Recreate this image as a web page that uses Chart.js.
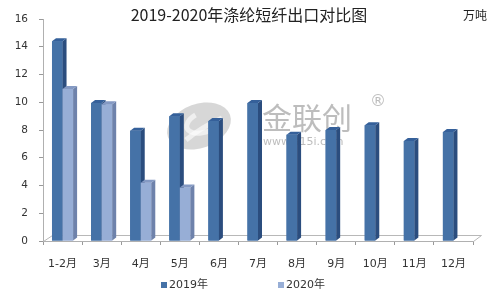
<!DOCTYPE html>
<html><head><meta charset="utf-8">
<script src="https://cdn.jsdelivr.net/npm/chart.js@4/dist/chart.umd.min.js"></script>
<style>html,body{margin:0;padding:0;background:#fff}#wrap{width:500px;height:296px;position:relative}</style>
</head><body><div id="wrap"><canvas id="c" width="500" height="296"></canvas></div>
<script>
const categories = ['1-2月','3月','4月','5月','6月','7月','8月','9月','10月','11月','12月'];
const series2019 = [14.4, 9.95, 7.95, 9.0, 8.65, 9.95, 7.65, 8.0, 8.35, 7.2, 7.85];
const series2020 = [10.95, 9.85, 4.2, 3.85, null, null, null, null, null, null, null];
const seriesNames = ['2019年', '2020年'];
const yTickMin = 0, yTickMax = 16, yTickStep = 2;
const titleText = '2019-2020年涤纶短纤出口对比图';
const unitText = '万吨';
const watermarkText = '金联创';
const watermarkUrl = 'www.315i.com';

const FRONT = ['#4572A7', '#97AED6'];
const SIDE = ['#2B4D7E', '#6E82AB'];
const TOP = ['#35609A', '#8499C3'];
const DX = 4, DY = 3;
const FONT = "'DejaVu Sans', 'Noto Sans CJK SC', sans-serif";

const decorPlugin = {
  id: 'decor',
  beforeDatasetsDraw(chart) {
    const ctx = chart.ctx, a = chart.chartArea;
    ctx.save();
    // watermark logo
    ctx.globalAlpha = 0.6;
    ctx.fillStyle = '#bdbdbd';
    ctx.beginPath();
    ctx.ellipse(199, 126, 33, 22, -0.35, 0, Math.PI * 2);
    ctx.fill();
    ctx.strokeStyle = '#ffffff';
    ctx.lineWidth = 5;
    ctx.beginPath();
    ctx.ellipse(204, 122, 18, 10, -0.35, 0.3, Math.PI * 1.4);
    ctx.stroke();
    ctx.beginPath();
    ctx.moveTo(186, 140); ctx.quadraticCurveTo(200, 128, 222, 118);
    ctx.stroke();
    ctx.globalAlpha = 0.8;
    ctx.fillStyle = '#acacac';
    ctx.font = "30px 'Noto Sans CJK SC'";
    ctx.textBaseline = 'middle';
    ctx.textAlign = 'left';
    ctx.fillText(watermarkText, 262, 118);
    ctx.font = "16px 'DejaVu Sans'";
    ctx.fillText('®', 370, 102);
    ctx.font = "11px 'DejaVu Sans'";
    ctx.fillText(watermarkUrl, 263, 142);
    ctx.globalAlpha = 1;
    // floor
    ctx.strokeStyle = '#b8b8b8';
    ctx.lineWidth = 1;
    ctx.beginPath();
    ctx.moveTo(a.left + 0.5, a.bottom + 0.5);
    ctx.lineTo(a.left + 9.5, a.bottom - 5.5);
    ctx.lineTo(a.right + 8.5, a.bottom - 5.5);
    ctx.lineTo(a.right + 0.5, a.bottom + 0.5);
    ctx.stroke();
    ctx.restore();
  },
  afterDatasetsDraw(chart) {
    const ctx = chart.ctx;
    const metas = [chart.getDatasetMeta(0), chart.getDatasetMeta(1)];
    ctx.save();
    for (let i = 0; i < categories.length; i++) {
      for (let d = 0; d < 2; d++) {
        const v = chart.data.datasets[d].data[i];
        if (v === null || v === undefined) continue;
        const el = metas[d].data[i];
        el.draw(ctx);
        const l = el.x - el.width / 2, r = el.x + el.width / 2, t = el.y, b = el.base;
        ctx.fillStyle = SIDE[d];
        ctx.beginPath();
        ctx.moveTo(r, t); ctx.lineTo(r + DX, t - DY); ctx.lineTo(r + DX, b - DY); ctx.lineTo(r, b);
        ctx.closePath(); ctx.fill();
        ctx.fillStyle = TOP[d];
        ctx.beginPath();
        ctx.moveTo(l, t); ctx.lineTo(l + DX, t - DY); ctx.lineTo(r + DX, t - DY); ctx.lineTo(r, t);
        ctx.closePath(); ctx.fill();
      }
    }
    ctx.restore();
  },
  afterDraw(chart) {
    const ctx = chart.ctx;
    ctx.save();
    ctx.fillStyle = '#222';
    ctx.textBaseline = 'middle';
    ctx.textAlign = 'center';
    ctx.font = "16px 'Noto Sans CJK SC'";
    ctx.fillText(titleText, 249, 15);
    ctx.textAlign = 'left';
    ctx.font = "12px 'Noto Sans CJK SC'";
    ctx.fillText(unitText, 463, 15);
    const lx = [161, 278];
    ctx.font = "11px " + FONT;
    for (let d = 0; d < 2; d++) {
      ctx.fillStyle = FRONT[d];
      ctx.fillRect(lx[d], 282, 6, 6);
      ctx.fillStyle = '#333';
      ctx.fillText(seriesNames[d], lx[d] + 8, 285.5);
    }
    ctx.restore();
  }
};

new Chart(document.getElementById('c'), {
  type: 'bar',
  data: {
    labels: categories,
    datasets: [
      { label: seriesNames[0], data: series2019, backgroundColor: FRONT[0], borderWidth: 0 },
      { label: seriesNames[1], data: series2020, backgroundColor: FRONT[1], borderWidth: 0 }
    ]
  },
  options: {
    responsive: false,
    animation: false,
    devicePixelRatio: 1,
    layout: { padding: { top: 19, right: 27, left: 0, bottom: 0 } },
    datasets: { bar: { categoryPercentage: 0.54, barPercentage: 1.0 } },
    plugins: { legend: { display: false }, title: { display: false }, tooltip: { enabled: false } },
    scales: {
      x: {
        afterFit(s) { s.height = 55; },
        grid: { drawOnChartArea: false, drawTicks: true, tickLength: 4, color: '#999' },
        border: { display: true, color: '#b0b0b0' },
        ticks: { color: '#333', font: { size: 11, family: FONT }, padding: 13, maxRotation: 0, autoSkip: false }
      },
      y: {
        min: yTickMin, max: yTickMax,
        afterFit(s) { s.width = 43; },
        grid: { drawOnChartArea: false, drawTicks: true, tickLength: 4, color: '#999' },
        border: { display: true, color: '#b0b0b0' },
        ticks: { stepSize: yTickStep, color: '#333', font: { size: 10.5, family: FONT }, padding: 11 }
      }
    }
  },
  plugins: [decorPlugin]
});
</script></body></html>
